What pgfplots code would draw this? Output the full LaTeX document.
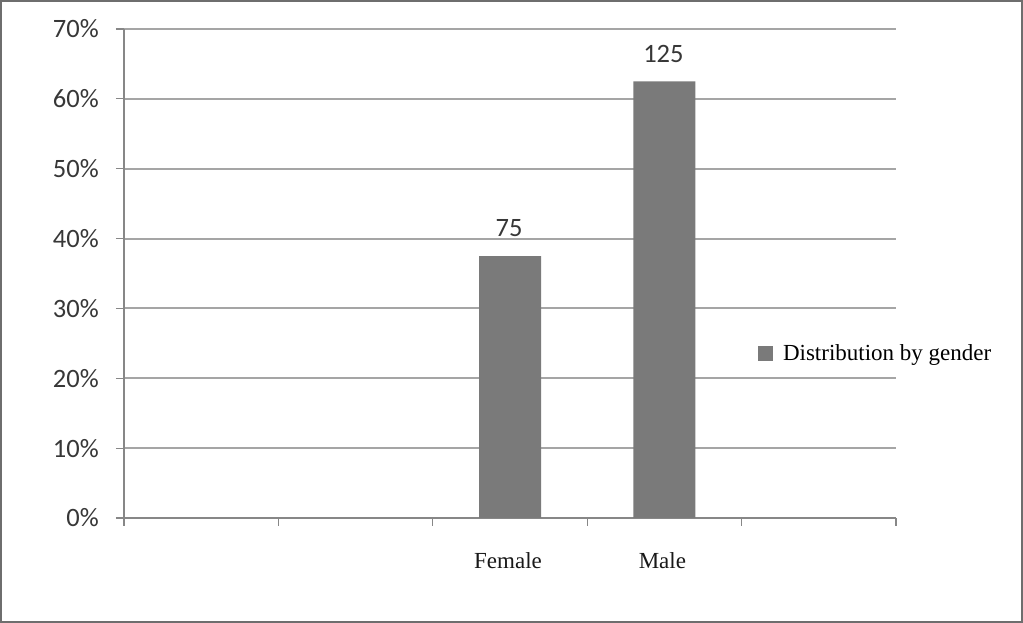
\documentclass[border=0pt]{standalone}
\usepackage{pgfplots}
\pgfplotsset{compat=1.18}
\usepackage{fontspec}
\setmainfont{Liberation Serif}
\newfontfamily\calibri{Carlito}
\definecolor{framegray}{RGB}{110,110,110}
\definecolor{axisgray}{RGB}{135,135,135}
\definecolor{gridgray}{RGB}{165,165,165}
\definecolor{barfill}{RGB}{122,122,122}
\definecolor{labelgray}{RGB}{55,55,55}
\begin{document}
\begin{tikzpicture}[x=1pt,y=1pt]
\path[use as bounding box] (0,0) rectangle (1023,623);
\draw[framegray, line width=2pt] (1,1) rectangle (1022,622);
\begin{axis}[
  at={(124pt,105pt)}, anchor=south west,
  scale only axis, width=772pt, height=489pt,
  xmin=0.5, xmax=5.5, ymin=0, ymax=70,
  axis lines=left,
  axis line style={draw=axisgray, line width=2pt, -},
  every outer x axis line/.append style={-},
  every outer y axis line/.append style={-},
  tick align=outside,
  major tick length=8pt,
  tick style={draw=axisgray, line width=1.2pt},
  ytick={0,10,...,70},
  yticklabels={0\%,10\%,20\%,30\%,40\%,50\%,60\%,70\%},
  yticklabel style={font=\calibri\fontsize{26.5}{30}\selectfont, text=labelgray, anchor=east, inner sep=0pt, xshift=-17pt},
  ymajorgrids,
  major grid style={draw=gridgray, line width=2pt},
  xtick={0.5,1.5,...,5.5},
  xticklabels={},
  extra x ticks={3,4},
  extra x tick labels={Female,Male},
  extra x tick style={major tick length=0pt, grid=none,
    xticklabel style={font=\fontsize{23}{27}\selectfont, text=black!90, anchor=north, inner sep=0pt, yshift=-34pt, xshift=-2pt}},
  ybar, bar width=62pt,
  point meta=explicit symbolic,
  nodes near coords,
  nodes near coords style={font=\calibri\fontsize{26.5}{30}\selectfont, text=labelgray, anchor=south, inner sep=0pt, yshift=19pt, xshift=-1pt},
  legend style={at={(0.821,0.337)}, anchor=west, draw=none, fill=none,
    font=\fontsize{23}{27}\selectfont, inner sep=0pt},
  legend image code/.code={\fill[barfill] (0pt,-7.5pt) rectangle (15pt,7.5pt); \path (23pt,0pt);},
]
\addplot[fill=barfill, draw=none] coordinates {(3,37.5) [75] (4,62.5) [125]};
\addlegendentry{Distribution by gender}
\end{axis}
\end{tikzpicture}
\end{document}
